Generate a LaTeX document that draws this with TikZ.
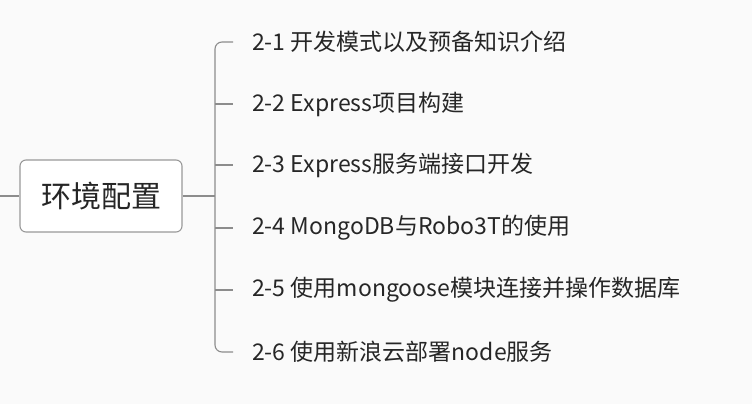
\documentclass[tikz,border=0pt]{standalone}
\usepackage{fontspec}
\setmainfont{Noto Sans CJK SC}
\begin{document}
\begin{tikzpicture}[x=1pt,y=-1pt,
  ln/.style={draw=black!45,line width=1.1pt},
  item/.style={anchor=west,inner sep=0pt,font=\fontsize{23}{26}\selectfont,text=black!85}]
\useasboundingbox[fill=black!2] (0,0) rectangle (752,404);
\node[draw=black!40,line width=1.1pt,rounded corners=6pt,fill=white,minimum width=162pt,minimum height=72pt,font=\fontsize{30}{34}\selectfont,text=black!85] (root) at (101,196) {环境配置};
\coordinate (lft) at (0,196);
\draw[ln] (lft) -- (root.west);
\coordinate (j) at (215,196);
\draw[ln] (root.east) -- (j);
\foreach \i/\y/\t in {1/42/2-1 开发模式以及预备知识介绍,2/104/2-2 Express项目构建,3/165/2-3 Express服务端接口开发,4/228/2-4 MongoDB与Robo3T的使用,5/290/2-5 使用mongoose模块连接并操作数据库,6/352/2-6 使用新浪云部署node服务}{
  \node[item] (n\i) at (252,\y) {\t};
  \coordinate (t\i) at (233,\y);
}
\draw[ln,rounded corners=7pt] (t1) -| (215,120) -- (215,280) |- (t6);
\foreach \i in {2,3,4,5}{ \draw[ln] (215,0 |- t\i) -- (t\i); }
\end{tikzpicture}
\end{document}
